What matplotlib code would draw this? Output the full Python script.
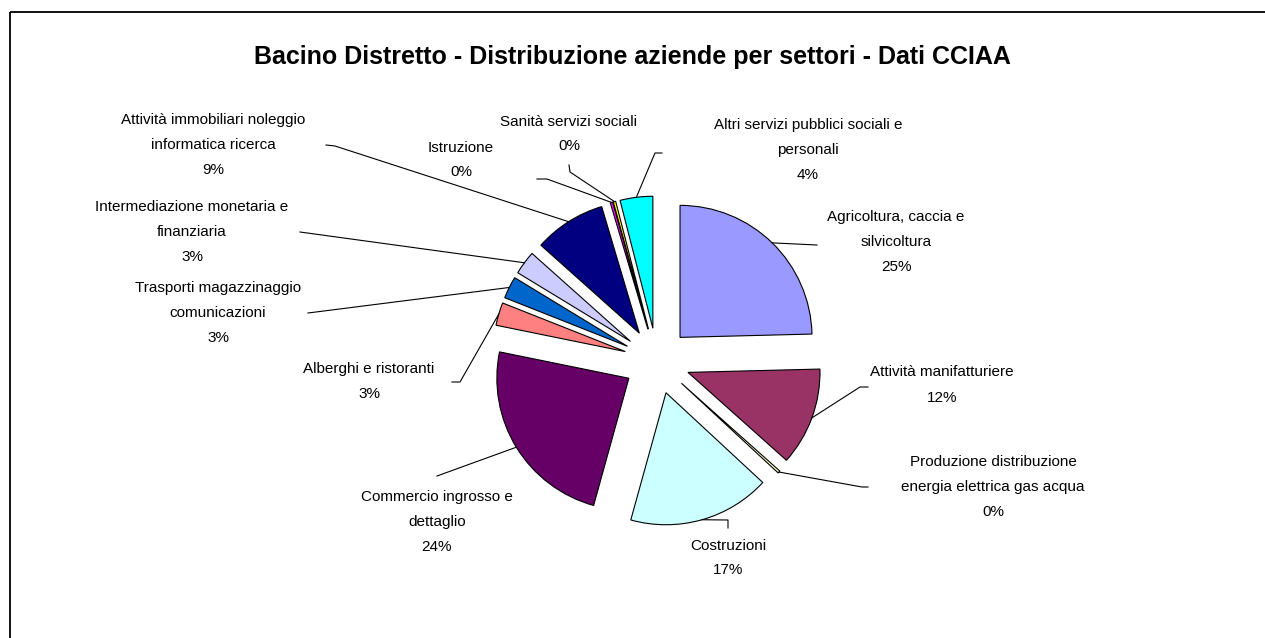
import numpy as np
import matplotlib
matplotlib.use("Agg")
import matplotlib.pyplot as plt
from matplotlib.patches import Rectangle

plt.rcParams["font.family"] = ["Liberation Sans", "DejaVu Sans"]

TITLE = "Bacino Distretto - Distribuzione aziende per settori - Dati CCIAA"
SETTORI = ["Agricoltura, caccia e\nsilvicoltura",
           "Attività manifatturiere",
           "Produzione distribuzione\nenergia elettrica gas acqua",
           "Costruzioni",
           "Commercio ingrosso e\ndettaglio",
           "Alberghi e ristoranti",
           "Trasporti magazzinaggio\ncomunicazioni",
           "Intermediazione monetaria e\nfinanziaria",
           "Attività immobiliari noleggio\ninformatica ricerca",
           "Istruzione",
           "Sanità servizi sociali",
           "Altri servizi pubblici sociali e\npersonali"]
QUOTE = [24.6, 12.0, 0.3, 17.4, 23.9, 2.8, 2.7, 2.9, 8.8, 0.3, 0.3, 4.0]
COLORI = ["#9999FF", "#993366", "#FFFFCC", "#CCFFFF", "#660066", "#FF8080",
          "#0066CC", "#CCCCFF", "#000080", "#FF00FF", "#FFFF00", "#00FFFF"]

# layout in pixel coords (y down)
CENTER = (657, 361); RADIUS = 132; EXPL = 33
LBL_POS = [(896, 242), (942, 385), (993, 487), (728, 558), (437, 522), (369, 381),
           (218, 313), (192, 232), (213, 145), (461, 160), (569, 134), (808, 150)]
LEADER = [[(817, 245)],
          [(860, 387), (868, 387)],
          [(862, 487), (868, 487)],
          [(728, 520), (728, 528)],
          [(437, 476)],
          [(460, 382), (452, 382)],
          [(308, 313)],
          [(300, 232)],
          [(335, 146), (326, 145)],
          [(547, 179), (537, 179)],
          [(570, 172), (569, 165)],
          [(655, 153), (662, 153)]]

fig = plt.figure(figsize=(12.65, 6.38), dpi=100)
ax = fig.add_axes([0, 0, 1, 1])
tot = sum(QUOTE)
wedges, _ = ax.pie(QUOTE, colors=COLORI, explode=[EXPL] * len(QUOTE), radius=RADIUS,
                   center=CENTER, startangle=-90, counterclock=True,
                   wedgeprops=dict(edgecolor="black", linewidth=0.8))
ax.set_aspect("auto")
ax.set_xlim(0, 1265); ax.set_ylim(638, 0)
ax.axis("off")

for w, nome, q, pos, pts in zip(wedges, SETTORI, QUOTE, LBL_POS, LEADER):
    m = np.deg2rad((w.theta1 + w.theta2) / 2)
    sx = w.center[0] + w.r * np.cos(m); sy = w.center[1] + w.r * np.sin(m)
    xs = [sx] + [p[0] for p in pts]; ys = [sy] + [p[1] for p in pts]
    ax.plot(xs, ys, color="black", lw=0.8)
    ax.text(pos[0], pos[1], f"{nome}\n{round(q / tot * 100):.0f}%", ha="center", va="center",
            fontsize=11, linespacing=2.0)

ax.text(632, 57, TITLE, ha="center", va="center", fontsize=18, fontweight="bold")
ax.add_patch(Rectangle((10, 12), 1400, 800, fill=False, edgecolor="black", lw=1.3, clip_on=False))

fig.savefig("out.png", dpi=100)
